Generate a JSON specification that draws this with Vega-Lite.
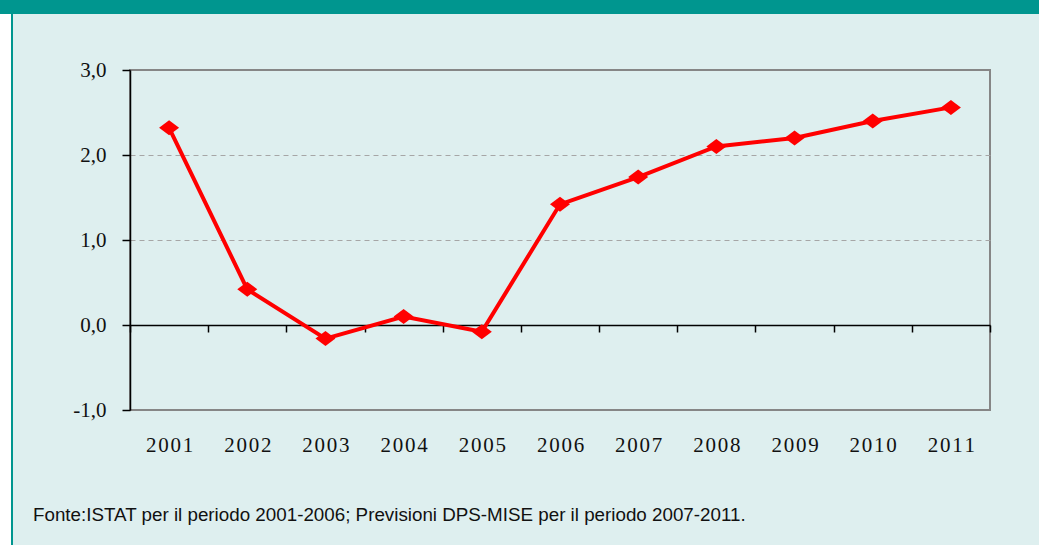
{
  "$schema": "https://vega.github.io/schema/vega-lite/v6.json",
  "background": "#DEEFEF",
  "padding": 0,
  "spacing": 0,
  "bounds": "flush",
  "config": {"view": {"stroke": null}},
  "vconcat": [
    {
      "width": 1039,
      "height": 14,
      "view": {"fill": "#00968F", "stroke": null},
      "data": {"values": [{}]},
      "mark": {"type": "rect", "opacity": 0}
    },
    {
      "bounds": "flush",
      "spacing": 130,
      "hconcat": [
        {
          "bounds": "flush",
          "spacing": 0,
          "hconcat": [
            {
              "width": 11,
              "height": 531,
              "view": {"fill": "#FFFFFF", "stroke": null},
              "data": {"values": [{}]},
              "mark": {"type": "rect", "opacity": 0}
            },
            {
              "width": 2,
              "height": 531,
              "view": {"fill": "#00968F", "stroke": null},
              "data": {"values": [{}]},
              "mark": {"type": "rect", "opacity": 0}
            }
          ]
        },
        {
          "bounds": "flush",
          "spacing": 0,
          "vconcat": [
            {
              "width": 1,
              "height": 56,
              "data": {"values": [{}]},
              "mark": {"type": "rect", "opacity": 0}
            },
            {
              "width": 860,
              "height": 340,
              "view": {"stroke": "#868686", "strokeWidth": 2, "fill": null},
              "title": {
                "text": "Fonte:ISTAT per il periodo 2001-2006; Previsioni DPS-MISE per il periodo 2007-2011.",
                "orient": "bottom",
                "anchor": "start",
                "frame": "group",
                "dx": -97,
                "offset": 51,
                "font": "Liberation Sans",
                "fontSize": 18.8,
                "fontWeight": "normal",
                "color": "#111111"
              },
              "data": {
                "values": [
                  {"anno": "2001", "valore": 2.32},
                  {"anno": "2002", "valore": 0.42},
                  {"anno": "2003", "valore": -0.16},
                  {"anno": "2004", "valore": 0.10},
                  {"anno": "2005", "valore": -0.08},
                  {"anno": "2006", "valore": 1.42},
                  {"anno": "2007", "valore": 1.74},
                  {"anno": "2008", "valore": 2.10},
                  {"anno": "2009", "valore": 2.20},
                  {"anno": "2010", "valore": 2.40},
                  {"anno": "2011", "valore": 2.56}
                ]
              },
              "encoding": {
                "x": {
                  "field": "anno",
                  "type": "ordinal",
                  "scale": {"type": "band", "paddingInner": 0, "paddingOuter": 0},
                  "axis": {
                    "title": null,
                    "orient": "bottom",
                    "offset": -85,
                    "labelAngle": 0,
                    "tickBand": "extent",
                    "labelExpr": "join(split(datum.label, ''), '\u200A')",
                    "domainColor": "#000000",
                    "domainWidth": 1.5,
                    "tickColor": "#000000",
                    "tickWidth": 1.5,
                    "tickSize": 7,
                    "labelPadding": 102,
                    "labelFont": "Liberation Serif",
                    "labelFontSize": 21,
                    "labelColor": "#111111",
                    "grid": false
                  }
                },
                "y": {
                  "field": "valore",
                  "type": "quantitative",
                  "scale": {"domain": [-1, 3], "nice": false, "zero": false},
                  "axis": {
                    "title": null,
                    "values": [-1, 0, 1, 2, 3],
                    "labelExpr": "(datum.value < 0 ? '-' : '') + replace(format(abs(datum.value), '.1f'), '.', ',')",
                    "domainColor": "#000000",
                    "domainWidth": 1.5,
                    "tickColor": "#000000",
                    "tickWidth": 1.5,
                    "tickSize": 8,
                    "labelPadding": 16,
                    "labelFont": "Liberation Serif",
                    "labelFontSize": 21,
                    "labelColor": "#111111",
                    "grid": true,
                    "gridColor": "#A6A6A6",
                    "gridDash": [5, 4],
                    "gridWidth": 1,
                    "gridOpacity": {"condition": {"test": "datum.value == 1 || datum.value == 2", "value": 1}, "value": 0}
                  }
                }
              },
              "layer": [
                {"mark": {"type": "line", "color": "#FF0000", "strokeWidth": 4}},
                {"mark": {"type": "point", "shape": "M-1,0L0,-0.75L1,0L0,0.75Z", "filled": true, "color": "#FF0000", "size": 400, "opacity": 1}}
              ]
            }
          ]
        }
      ]
    }
  ]
}
